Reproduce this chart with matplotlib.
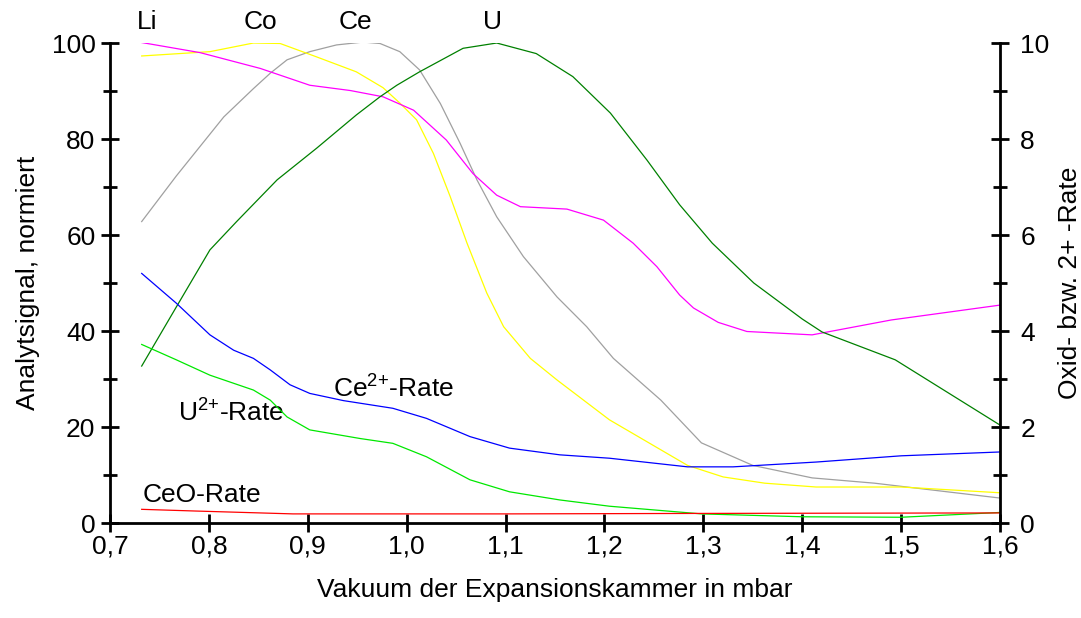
import matplotlib
matplotlib.use("Agg")
import matplotlib.pyplot as plt
from matplotlib.ticker import MultipleLocator, FixedLocator

plt.rcParams['font.family'] = ['Liberation Sans', 'DejaVu Sans']
plt.rcParams['mathtext.fontset'] = 'custom'
plt.rcParams['mathtext.rm'] = 'Liberation Sans'
plt.rcParams['mathtext.it'] = 'Liberation Sans:italic'
plt.rcParams['mathtext.bf'] = 'Liberation Sans:bold'

# ---- data (left axis: normalised signal, %) ----
li_x = [0.732, 0.791, 0.852, 0.902, 0.943, 0.976, 1.007, 1.040, 1.067, 1.091, 1.115, 1.162, 1.199, 1.229, 1.253, 1.276, 1.29, 1.315, 1.344, 1.41, 1.49, 1.60]
li_y = [100.1, 98.0, 94.7, 91.2, 90.1, 88.8, 86.0, 79.8, 72.8, 68.3, 65.9, 65.4, 63.1, 58.3, 53.4, 47.5, 44.8, 41.8, 39.9, 39.2, 42.3, 45.4]

co_x = [0.732, 0.801, 0.845, 0.872, 0.909, 0.949, 0.976, 0.993, 1.010, 1.027, 1.044, 1.061, 1.081, 1.098, 1.125, 1.152, 1.205, 1.284, 1.32, 1.362, 1.414, 1.50, 1.60]
co_y = [97.3, 98.2, 100, 99.9, 97.1, 94.0, 90.7, 87.5, 84.0, 77.0, 68.0, 58.3, 47.9, 40.9, 34.3, 29.8, 21.5, 12.0, 9.6, 8.3, 7.5, 7.5, 6.3]

ce_x = [0.732, 0.767, 0.815, 0.845, 0.862, 0.879, 0.902, 0.929, 0.956, 0.973, 0.993, 1.013, 1.034, 1.054, 1.071, 1.091, 1.118, 1.152, 1.182, 1.209, 1.257, 1.298, 1.35, 1.41, 1.473, 1.60]
ce_y = [62.8, 72.3, 84.6, 90.5, 93.7, 96.5, 98.2, 99.6, 100.2, 99.9, 98.2, 94.4, 87.4, 79.1, 71.5, 63.8, 55.5, 47.1, 40.9, 34.3, 25.6, 16.7, 12.0, 9.4, 8.3, 5.2]

u_x = [0.732, 0.767, 0.801, 0.828, 0.869, 0.909, 0.949, 0.973, 0.990, 1.013, 1.057, 1.091, 1.131, 1.168, 1.206, 1.243, 1.276, 1.309, 1.351, 1.40, 1.42, 1.494, 1.60]
u_y = [32.7, 45.0, 56.9, 62.8, 71.5, 78.1, 85.0, 88.8, 91.2, 94.0, 98.9, 100, 97.8, 93.0, 85.4, 75.6, 66.3, 58.3, 50.0, 42.5, 39.8, 34.0, 20.4]

# ---- data (right axis: oxide / doubly charged rate, %) ----
ce2_x = [0.732, 0.767, 0.801, 0.825, 0.845, 0.862, 0.882, 0.902, 0.936, 0.986, 1.020, 1.064, 1.104, 1.155, 1.205, 1.284, 1.33, 1.414, 1.50, 1.60]
ce2_y = [5.20, 4.58, 3.92, 3.60, 3.43, 3.19, 2.88, 2.70, 2.55, 2.39, 2.18, 1.80, 1.56, 1.42, 1.35, 1.17, 1.17, 1.27, 1.40, 1.48]

u2_x = [0.732, 0.767, 0.801, 0.845, 0.862, 0.879, 0.902, 0.953, 0.986, 1.020, 1.064, 1.104, 1.155, 1.205, 1.298, 1.40, 1.50, 1.60]
u2_y = [3.72, 3.40, 3.08, 2.77, 2.56, 2.21, 1.94, 1.76, 1.66, 1.38, 0.90, 0.65, 0.48, 0.35, 0.19, 0.13, 0.12, 0.22]

ceo_x = [0.732, 0.786, 0.885, 1.10, 1.30, 1.60]
ceo_y = [0.285, 0.25, 0.19, 0.19, 0.20, 0.21]

x_ticks = [0.7, 0.8, 0.9, 1.0, 1.1, 1.2, 1.3, 1.4, 1.5, 1.6]
x_ticklabels = ['0,7', '0,8', '0,9', '1,0', '1,1', '1,2', '1,3', '1,4', '1,5', '1,6']

FS = 19
LW = 0.9

fig = plt.figure(figsize=(10.81, 6.18), dpi=100)
ax = fig.add_axes([0.1018, 0.1537, 0.8233, 0.7767])
ax2 = ax.twinx()

ax.plot(ce_x, ce_y, color='#a0a0a0', lw=LW)
ax.plot(co_x, co_y, color='#ffff00', lw=LW)
ax.plot(li_x, li_y, color='#ff00ff', lw=LW)
ax.plot(u_x, u_y, color='#008000', lw=LW)
ax2.plot(ce2_x, ce2_y, color='#0000ff', lw=LW)
ax2.plot(u2_x, u2_y, color='#00e800', lw=LW)
ax2.plot(ceo_x, ceo_y, color='#ff0000', lw=LW)

ax.set_xlim(0.7, 1.6)
ax.set_ylim(0, 100)
ax2.set_ylim(0, 10)

for a in (ax, ax2):
    a.spines['top'].set_visible(False)
    a.patch.set_visible(False)
ax.spines['right'].set_visible(False)
ax2.spines['left'].set_visible(False)
ax2.spines['bottom'].set_visible(False)
for s in ('left', 'bottom'):
    ax.spines[s].set_linewidth(2)
ax2.spines['right'].set_linewidth(2)

ax.set_xticks(x_ticks)
ax.set_xticklabels(x_ticklabels)
ax.yaxis.set_major_locator(MultipleLocator(20))
ax.yaxis.set_minor_locator(FixedLocator([10, 30, 50, 70, 90]))
ax2.yaxis.set_major_locator(MultipleLocator(2))
ax2.yaxis.set_minor_locator(FixedLocator([1, 3, 5, 7, 9]))

ax.tick_params(axis='both', which='major', direction='inout', length=13, width=2,
               labelsize=FS, pad=2)
ax.tick_params(axis='y', which='major', pad=4)
ax.tick_params(axis='y', which='minor', direction='inout', length=10, width=2)
ax2.tick_params(axis='y', which='major', direction='inout', length=13, width=2,
                labelsize=FS, pad=8)
ax2.tick_params(axis='y', which='minor', direction='inout', length=10, width=2)

ax.set_xlabel('Vakuum der Expansionskammer in mbar', fontsize=FS, labelpad=14)
ax.set_ylabel('Analytsignal, normiert', fontsize=FS, labelpad=8)
ax2.set_ylabel('Oxid- bzw. 2+ -Rate', fontsize=FS, labelpad=6)

# series labels
ax.text(0.737, 104.3, 'Li', fontsize=FS, ha='center', va='center', clip_on=False)
ax.text(0.852, 104.3, 'Co', fontsize=FS, ha='center', va='center', clip_on=False)
ax.text(0.948, 104.3, 'Ce', fontsize=FS, ha='center', va='center', clip_on=False)
ax.text(1.087, 104.3, 'U', fontsize=FS, ha='center', va='center', clip_on=False)
ax.text(0.925, 28.0, 'Ce$^{2{+}}$-Rate', fontsize=FS, ha='left', va='center')
ax.text(0.769, 23.0, 'U$^{2{+}}$-Rate', fontsize=FS, ha='left', va='center')
ax.text(0.733, 5.8, 'CeO-Rate', fontsize=FS, ha='left', va='center')

fig.savefig('out.png', dpi=100)
